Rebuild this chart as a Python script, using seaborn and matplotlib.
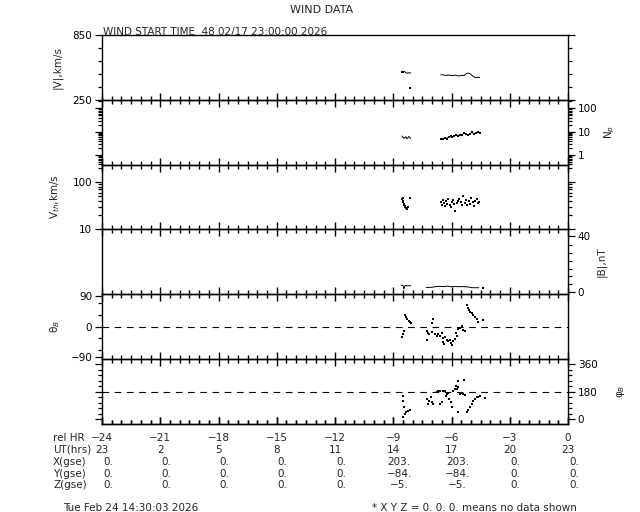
import numpy as np
import pandas as pd
import matplotlib
matplotlib.use("Agg")
import matplotlib.pyplot as plt
import matplotlib.transforms as mtransforms
from matplotlib.ticker import FixedLocator, MultipleLocator, LogLocator, NullFormatter, FixedFormatter
import seaborn as sns

# ---------------- data ----------------
rel_hr_ticks = [-24, -21, -18, -15, -12, -9, -6, -3, 0]
ut_hrs = ["23", "2", "5", "8", "11", "14", "17", "20", "23"]
x_gse = ["0.", "0.", "0.", "0.", "0.", "203.", "203.", "0.", "0."]
y_gse = ["0.", "0.", "0.", "0.", "0.", "\u221284.", "\u221284.", "0.", "0."]
z_gse = ["0.", "0.", "0.", "0.", "0.", "\u22125.", "\u22125.", "0.", "0."]

# |V| km/s
v_t1 = [-8.55, -8.50, -8.45, -8.40, -8.35, -8.30, -8.25, -8.20, -8.15, -8.10]
v_1 = [505, 512, 515, 510, 504, 498, 500, 502, 500, 499]
v_t2 = [-8.12]
v_2 = [358]
v_t3 = [-6.55, -6.45, -6.35, -6.25, -6.15, -6.05, -5.95, -5.85, -5.75, -5.65, -5.55,
        -5.45, -5.35, -5.25, -5.15, -5.05, -4.95, -4.85, -4.75, -4.65, -4.55]
v_3 = [482, 484, 479, 476, 482, 477, 475, 480, 477, 473, 475,
       478, 476, 492, 499, 495, 478, 464, 457, 460, 458]

# Np
np_t1 = [-8.55, -8.50, -8.45, -8.40, -8.35, -8.30, -8.25, -8.20, -8.15, -8.10]
np_1 = [6.5, 5.8, 5.2, 5.5, 6.0, 5.0, 5.4, 6.2, 5.6, 5.1]
np_t2 = [-6.55, -6.45, -6.35, -6.25, -6.15, -6.05, -5.95, -5.85, -5.75, -5.65, -5.55,
         -5.45, -5.35, -5.25, -5.15, -5.05, -4.95, -4.85, -4.75, -4.65, -4.55]
np_2 = [4.6, 4.8, 5.5, 5.0, 5.9, 6.3, 5.7, 6.8, 7.2, 6.5, 7.0,
        7.5, 8.5, 7.8, 7.0, 8.2, 9.5, 8.0, 8.6, 9.5, 8.8]

# Vth km/s
vth_t = [-8.55, -8.52, -8.50, -8.47, -8.45, -8.42, -8.38, -8.35, -8.30, -8.26, -8.15, -8.52,
         -6.55, -6.50, -6.45, -6.40, -6.35, -6.30, -6.25, -6.20, -6.10, -6.05, -6.00, -5.90,
         -5.85, -5.80, -5.70, -5.65, -5.60, -5.50, -5.45, -5.40, -5.30, -5.25, -5.20, -5.10,
         -5.05, -5.00, -4.90, -4.85, -4.80, -4.70, -4.65, -4.60]
vth = [44, 40, 37, 35, 33, 31, 30, 28, 27, 29, 45, 46,
       38, 33, 41, 36, 31, 39, 35, 43, 33, 30, 37, 41,
       34, 25, 36, 40, 44, 38, 32, 50, 36, 42, 33, 39,
       35, 45, 37, 31, 40, 43, 36, 38]

# |B| nT
b_t1 = [-8.60, -8.55, -8.50, -8.45, -8.40, -8.35, -8.30, -8.25, -8.20, -8.15, -8.10]
b_1 = [4.9, 4.7, 4.6, 2.0, 4.5, 4.6, 4.4, 4.3, 4.4, 4.5, 4.4]
b_t2 = [-7.3, -7.2, -7.1, -7.0, -6.9, -6.8, -6.7, -6.6, -6.5, -6.4, -6.3, -6.2, -6.1, -6.0,
        -5.9, -5.8, -5.7, -5.6, -5.5, -5.4, -5.3, -5.2, -5.1, -5.0, -4.9, -4.8, -4.7, -4.6]
b_2 = [3.1, 3.2, 3.3, 3.3, 3.6, 3.8, 3.9, 4.0, 3.9, 3.8, 4.0, 4.1, 3.9, 3.7,
       3.8, 3.9, 3.8, 3.7, 3.8, 3.8, 3.7, 3.6, 3.5, 3.1, 3.0, 3.0, 3.0, 3.0]
b_t3 = [-4.36]
b_3 = [3.0]

# theta_B deg
th_t = [-8.39, -8.34, -8.27, -8.19, -8.14, -8.09, -8.45, -8.50, -8.55,
        -7.28, -7.19, -7.14, -7.02, -6.97, -6.99, -6.85, -6.76, -6.68, -6.59, -6.51,
        -6.46, -6.42, -6.37, -6.34, -6.25, -6.16, -6.08, -6.03, -5.96, -5.91, -5.82,
        -5.73, -5.77, -7.24,
        -5.65, -5.56, -5.48, -5.39, -5.30, -5.22, -5.17, -5.10, -5.05, -4.96, -4.88,
        -4.79, -4.70, -4.62, -4.38]
th = [34, 27, 23, 17, 13, 11, -13, -21, -31,
      -13, -18, -23, -16, 21, 11, -21, -27, -23, -29, -20,
      -34, -47, -52, -31, -39, -44, -41, -50, -55, -44, -37,
      -27, -18, -39,
      -8, -3, 3, -10, -13, 65, 55, 50, 44, 39, 34,
      29, 21, 13, 20]

# phi_B deg
ph_t = [-8.49, -8.48, -8.45, -8.40, -8.50, -8.33, -8.25, -8.13,
        -7.24, -7.14, -7.07, -7.02, -6.97, -7.19, -6.59, -6.51, -6.76, -6.68, -6.59,
        -6.42, -6.33, -6.28, -6.21, -6.16, -6.11, -6.04, -5.99, -5.91, -5.82, -5.73,
        -5.68, -5.65, -5.77,
        -5.56, -5.48, -5.39, -5.30, -5.65, -5.22, -5.13, -5.05, -4.96, -4.88, -4.79,
        -4.70, -4.62, -4.53, -5.34, -4.25]
ph = [154, 122, 79, 38, 15, 47, 58, 64,
      133, 122, 144, 111, 101, 101, 101, 111, 176, 182, 186,
      182, 186, 154, 165, 169, 133, 111, 79, 186, 197, 197,
      208, 251, 219,
      165, 169, 165, 161, 47, 47, 62, 79, 101, 122, 133,
      144, 148, 154, 257, 141]

# ---------------- figure ----------------
sns.set_theme(style="ticks")
plt.rcParams["font.family"] = ["DejaVu Sans"]
plt.rcParams.update({"xtick.bottom": True, "xtick.top": False, "axes.axisbelow": False,
                     "ytick.left": True, "xtick.color": "black", "ytick.color": "black"})
FS = 7.5

W, H = 640, 512
fig = plt.figure(figsize=(W / 100, H / 100), dpi=100)
left, right = 102 / W, 568 / W
top, bottom = 1 - 35.2 / H, 1 - 423.7 / H
gs = fig.add_gridspec(6, 1, left=left, right=right, top=top, bottom=bottom, hspace=0)
axes = [fig.add_subplot(gs[i]) for i in range(6)]

lw_data = 0.7
kw_line = dict(color="black", linewidth=lw_data, legend=False, estimator=None)
kw_pt = dict(color="black", s=1.4, marker="s", linewidth=0, legend=False)

# Panel 1: |V|
ax = axes[0]
sns.lineplot(x=v_t1, y=v_1, ax=ax, **kw_line)
sns.scatterplot(x=v_t1[:2], y=v_1[:2], ax=ax, **kw_pt)
sns.scatterplot(x=v_t2, y=v_2, ax=ax, **kw_pt)
sns.lineplot(x=v_t3, y=v_3, ax=ax, **kw_line)
ax.set_ylim(250, 850)
ax.yaxis.set_major_locator(FixedLocator([250, 850]))
ax.yaxis.set_minor_locator(FixedLocator([370, 490, 610, 730]))
ax.set_ylabel("|V|,km/s", fontsize=FS)
ax.yaxis.set_label_coords(-0.085, 0.5)

# Panel 2: Np
ax = axes[1]
sns.lineplot(x=np_t1, y=np_1, ax=ax, **kw_line)
sns.lineplot(x=np_t2, y=np_2, ax=ax, **kw_line)
sns.scatterplot(x=np_t2, y=np_2, ax=ax, **kw_pt)
ax.set_yscale("log")
ax.set_ylim(0.38, 230)
ax.yaxis.set_major_locator(FixedLocator([1, 10, 100]))
ax.yaxis.set_major_formatter(FixedFormatter(["1", "10", "100"]))
ax.yaxis.set_minor_locator(LogLocator(base=10, subs=np.arange(2, 10)))
ax.yaxis.set_minor_formatter(NullFormatter())
ax.yaxis.set_label_position("right")
ax.set_ylabel("N$_p$", fontsize=FS)
ax.yaxis.set_label_coords(1.075, 0.5)

# Panel 3: Vth
ax = axes[2]
sns.scatterplot(x=vth_t, y=vth, ax=ax, **kw_pt)
ax.set_yscale("log")
ax.set_ylim(10, 231)
ax.yaxis.set_major_locator(FixedLocator([10, 100]))
ax.yaxis.set_major_formatter(FixedFormatter(["10", "100"]))
ax.yaxis.set_minor_locator(LogLocator(base=10, subs=np.arange(2, 10)))
ax.yaxis.set_minor_formatter(NullFormatter())
ax.set_ylabel("V$_{th}$,km/s", fontsize=FS)
ax.yaxis.set_label_coords(-0.085, 0.5)

# Panel 4: |B|
ax = axes[3]
sns.lineplot(x=b_t1, y=b_1, ax=ax, **kw_line)
sns.lineplot(x=b_t2, y=b_2, ax=ax, **kw_line)
sns.scatterplot(x=b_t3, y=b_3, ax=ax, **kw_pt)
ax.set_ylim(-1.6, 44.4)
ax.yaxis.set_major_locator(FixedLocator([0, 40]))
ax.yaxis.set_minor_locator(FixedLocator([5.5, 11, 16.5, 22, 27.5, 33]))
ax.yaxis.set_label_position("right")
ax.set_ylabel("|B|,nT", fontsize=FS)
ax.yaxis.set_label_coords(1.06, 0.5)

# Panel 5: theta_B
ax = axes[4]
ax.axhline(0, color="black", linewidth=0.8, linestyle=(0, (6, 5)))
sns.scatterplot(x=th_t, y=th, ax=ax, **kw_pt)
ax.set_ylim(-96, 96)
ax.yaxis.set_major_locator(FixedLocator([-90, 0, 90]))
ax.yaxis.set_major_formatter(FixedFormatter(["\u221290", "0", "90"]))
ax.yaxis.set_minor_locator(FixedLocator([-70, -35, 35, 70]))
ax.set_ylabel("\u03b8$_B$", fontsize=FS)
ax.yaxis.set_label_coords(-0.085, 0.5)

# Panel 6: phi_B
ax = axes[5]
ax.axhline(180, color="black", linewidth=0.8, linestyle=(0, (6, 5)))
sns.scatterplot(x=ph_t, y=ph, ax=ax, **kw_pt)
ax.set_ylim(-28, 394)
ax.yaxis.set_major_locator(FixedLocator([0, 180, 360]))
ax.yaxis.set_minor_locator(FixedLocator([36, 72, 108, 144, 216, 252, 288, 324]))
ax.yaxis.set_label_position("right")
ax.set_ylabel("\u03c6$_B$", fontsize=FS)
ax.yaxis.set_label_coords(1.1, 0.5)

# y tick sides / label sides
ysides = [(True, True, True, False), (True, True, False, True), (True, True, True, False),
          (False, True, False, True), (True, False, True, False), (True, True, False, True)]

for i, ax in enumerate(axes):
    ax.patch.set_visible(False)
    ax.set_axisbelow(False)
    ax.set_xlim(-24, 0)
    ax.set_xlabel("")
    ax.xaxis.set_major_locator(MultipleLocator(3))
    ax.xaxis.set_minor_locator(MultipleLocator(0.5))
    for s in ax.spines.values():
        s.set_visible(True)
        s.set_color("black")
        s.set_linewidth(1.0)
    ax.grid(False)
    l_, r_, ll_, lr_ = ysides[i]
    ax.tick_params(axis="y", which="both", direction="out", color="black",
                   labelsize=FS, width=0.9, pad=2, left=l_, right=r_,
                   labelleft=ll_, labelright=lr_)
    ax.tick_params(axis="y", which="major", length=5)
    ax.tick_params(axis="y", which="minor", length=3)
    ax.tick_params(axis="x", which="both", bottom=True, top=(i > 0),
                   labelbottom=False, labeltop=False,
                   direction="in", color="black", width=1.0)
    ax.tick_params(axis="x", which="major", length=5)
    ax.tick_params(axis="x", which="minor", length=3)

# extra bottom tick row for the lowest panel, drawn by a secondary x axis
sec = axes[5].secondary_xaxis("bottom")
sec.xaxis.set_major_locator(MultipleLocator(3))
sec.xaxis.set_minor_locator(MultipleLocator(0.5))
sec.tick_params(axis="x", which="both", direction="in", color="black", width=1.0,
                labelbottom=False)
sec.tick_params(axis="x", which="major", length=5)
sec.tick_params(axis="x", which="minor", length=3)
sec.spines["bottom"].set_linewidth(1.0)
sec.spines["bottom"].set_color("black")

# titles
fig.text(322 / W, 1 - 10 / H, "WIND DATA", ha="center", va="center", fontsize=8)
fig.text(103 / W, 1 - 31.5 / H, "WIND START TIME  48 02/17 23:00:00 2026",
         ha="left", va="center", fontsize=FS)

# bottom table
bt = mtransforms.blended_transform_factory(axes[5].transData, fig.transFigure)
bt_off = mtransforms.offset_copy(bt, fig=fig, x=6, y=0, units="dots")
rows_y = [438, 450, 462, 474, 485]
labels = ["rel HR", "UT(hrs)", "X(gse)", "Y(gse)", "Z(gse)"]
for lab, yy in zip(labels, rows_y):
    fig.text(53 / W, 1 - yy / H, lab, ha="left", va="center", fontsize=FS)
rel_lbl = [("\u2212%d" % -t) if t < 0 else "0" for t in rel_hr_ticks]
for t, a, b_, c, d, e in zip(rel_hr_ticks, rel_lbl, ut_hrs, x_gse, y_gse, z_gse):
    fig.text(t, 1 - rows_y[0] / H, a, transform=bt, ha="center", va="center", fontsize=FS)
    fig.text(t, 1 - rows_y[1] / H, b_, transform=bt, ha="center", va="center", fontsize=FS)
    fig.text(t, 1 - rows_y[2] / H, c, transform=bt_off, ha="center", va="center", fontsize=FS)
    fig.text(t, 1 - rows_y[3] / H, d, transform=bt_off, ha="center", va="center", fontsize=FS)
    fig.text(t, 1 - rows_y[4] / H, e, transform=bt_off, ha="center", va="center", fontsize=FS)

fig.text(63 / W, 1 - 508 / H, "Tue Feb 24 14:30:03 2026", ha="left", va="center", fontsize=FS)
fig.text(577 / W, 1 - 508 / H, "* X Y Z = 0. 0. 0. means no data shown",
         ha="right", va="center", fontsize=FS)

fig.savefig("out.png", dpi=100, facecolor="white")
